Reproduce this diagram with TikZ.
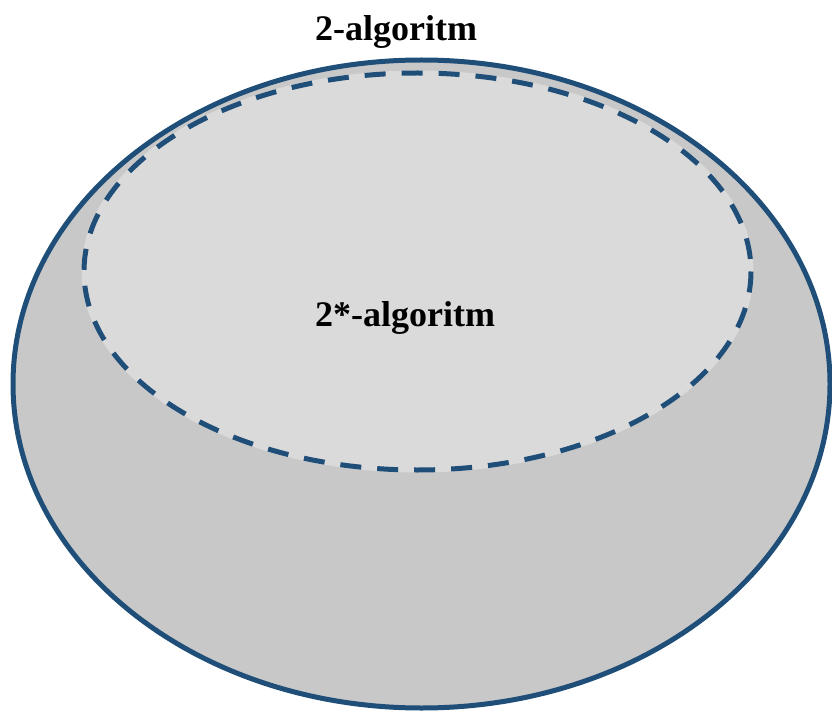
\documentclass[tikz,border=0pt]{standalone}
\usepackage{fontspec}
\setmainfont{Liberation Serif}
\definecolor{edgeblue}{HTML}{1F4E79}
\definecolor{outerfill}{HTML}{C8C8C8}
\definecolor{innerfill}{HTML}{DADADA}
\begin{document}
\begin{tikzpicture}[x=1pt,y=-1pt,
  setline/.style={draw=edgeblue,line width=5pt},
  lbl/.style={font=\fontsize{36}{40}\selectfont\bfseries,anchor=base,inner sep=0pt}]
\useasboundingbox (0,0) rectangle (832,711);
\path[setline,fill=outerfill] (421.5,384) ellipse [x radius=408.5, y radius=324];
\path[fill=innerfill] (417.5,271.5) ellipse [x radius=336, y radius=201];
\path[setline,dash pattern=on 21pt off 16pt] (417.5,271.5) ellipse [x radius=333.5, y radius=198.5];
\node[lbl] (outer) at (396,41) {2-algoritm};
\node[lbl] (inner) at (405,326) {2*-algoritm};
\end{tikzpicture}
\end{document}
